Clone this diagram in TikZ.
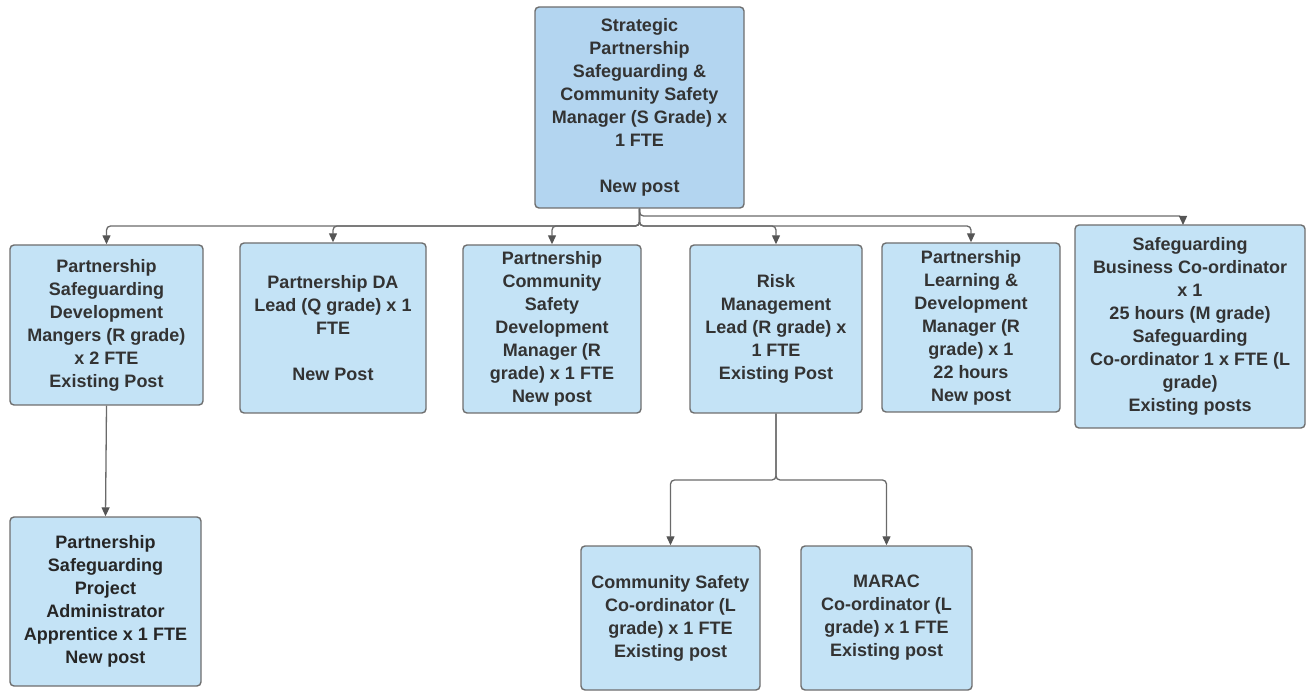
\documentclass[tikz,border=0pt]{standalone}
\usepackage{fontspec}
\setmainfont{Liberation Sans}
\usetikzlibrary{arrows.meta,calc}
\definecolor{boxfill}{HTML}{C4E3F6}
\definecolor{topfill}{HTML}{B3D5F0}
\definecolor{boxline}{HTML}{6E6E6E}
\definecolor{txt}{HTML}{333333}
\definecolor{conn}{HTML}{6A6A6A}
\definecolor{tipc}{HTML}{555555}
\begin{document}
\begin{tikzpicture}[x=1pt,y=-1pt,
  post/.style={draw=boxline,line width=1.4pt,fill=boxfill,rounded corners=4pt,
    align=center,text=txt,font=\fontsize{18}{23}\selectfont\bfseries,inner sep=2pt},
  link/.style={draw=conn,line width=1.3pt,rounded corners=4pt,
    -{Triangle[width=8pt,length=9pt,fill=tipc,color=tipc]}},
  plain/.style={draw=conn,line width=1.3pt,rounded corners=4pt}]
\useasboundingbox (0,0) rectangle (1307,692);

\node[post,fill=topfill,minimum width=209pt,minimum height=201pt] (top) at (639.5,107.5)
  {Strategic\\Partnership\\Safeguarding \&\\Community Safety\\Manager (S Grade) x\\1 FTE\\[23pt]New post};

\node[post,minimum width=193pt,minimum height=160pt] (b1) at (106.5,325)
  {Partnership\\Safeguarding\\Development\\Mangers (R grade)\\x 2 FTE\\Existing Post};
\node[post,minimum width=186pt,minimum height=170pt] (b2) at (333,328)
  {Partnership DA\\Lead (Q grade) x 1\\FTE\\[23pt]New Post};
\node[post,minimum width=178pt,minimum height=168pt] (b3) at (552,329)
  {Partnership\\Community\\Safety\\Development\\Manager (R\\grade) x 1 FTE\\New post};
\node[post,minimum width=172pt,minimum height=168pt] (b4) at (776,329)
  {Risk\\Management\\Lead (R grade) x\\1 FTE\\Existing Post};
\node[post,minimum width=178pt,minimum height=169pt] (b5) at (971,327.5)
  {Partnership\\Learning \&\\Development\\Manager (R\\grade) x 1\\22 hours\\New post};
\node[post,minimum width=230pt,minimum height=203pt] (b6) at (1190,326.5)
  {Safeguarding\\Business Co-ordinator\\x 1\\25 hours (M grade)\\Safeguarding\\Co-ordinator 1 x FTE (L\\grade)\\Existing posts};

\node[post,text=black!85,minimum width=191pt,minimum height=169pt] (b7) at (105.5,601.5)
  {Partnership\\Safeguarding\\Project\\Administrator\\Apprentice x 1 FTE\\New post};
\node[post,minimum width=179pt,minimum height=144pt] (b8) at (670.5,618)
  {Community Safety\\Co-ordinator (L\\grade) x 1 FTE\\Existing post};
\node[post,minimum width=171pt,minimum height=144pt] (b9) at (886.5,618)
  {MARAC\\Co-ordinator (L\\grade) x 1 FTE\\Existing post};

% bus coordinates
\coordinate (busL) at (639.5,226);
\coordinate (busH) at (639.5,216);
\coordinate (j6) at (1183,216);
\coordinate (t6) at (1183,225);
\coordinate (busR) at (776,480);

\draw[link] (top.south) -- (busL) -| (b1.north);
\draw[link] (top.south) -- (busL) -| (b2.north);
\draw[link] (top.south) -- (busL) -| (b3.north);
\draw[link] (top.south) -- (busL) -| (b4.north);
\draw[link] (top.south) -- (busL) -| (b5.north);
\draw[link] (top.south) -- (busH) -- (j6) -- (t6);

\draw[link] (b1.south) -- (b7.north);
\draw[link] (b4.south) -- (busR) -| (b8.north);
\draw[link] (b4.south) -- (busR) -| (b9.north);
\end{tikzpicture}
\end{document}
